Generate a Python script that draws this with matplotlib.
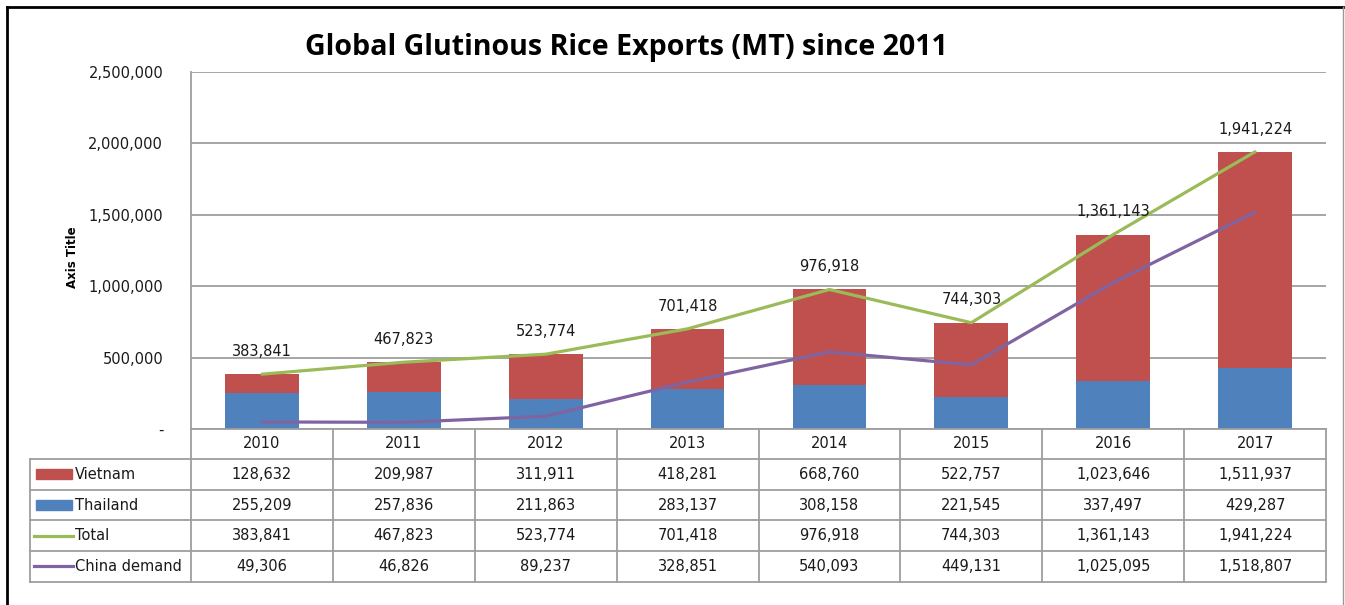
import numpy as np
import matplotlib.pyplot as plt
from matplotlib.patches import Rectangle
from matplotlib.lines import Line2D

# data (from the chart's data table)
years = ["2010", "2011", "2012", "2013", "2014", "2015", "2016", "2017"]
vietnam = [128632, 209987, 311911, 418281, 668760, 522757, 1023646, 1511937]
thailand = [255209, 257836, 211863, 283137, 308158, 221545, 337497, 429287]
total = [383841, 467823, 523774, 701418, 976918, 744303, 1361143, 1941224]
china = [49306, 46826, 89237, 328851, 540093, 449131, 1025095, 1518807]

c_vn = "#C0504D"
c_th = "#4F81BD"
c_tot = "#9BBB59"
c_cn = "#8064A2"
grid_c = "#9E9E9E"
txt_c = "#1a1a1a"

W, H = 1345, 605
fig = plt.figure(figsize=(W / 100, H / 100), dpi=100)

# plot area in pixels
L, R, T, B = 191, 1326, 72, 429
ax = fig.add_axes([L / W, 1 - B / H, (R - L) / W, (B - T) / H])

x = np.arange(len(years))
ax.bar(x, thailand, width=0.52, color=c_th, zorder=2)
ax.bar(x, vietnam, width=0.52, bottom=thailand, color=c_vn, zorder=2)
ax.plot(x, total, color=c_tot, lw=2.3, zorder=3, solid_capstyle="round")
ax.plot(x, china, color=c_cn, lw=2.3, zorder=3, solid_capstyle="round")

for xi, v in zip(x, total):
    ax.annotate(f"{v:,}", (xi, v), xytext=(0, 11), textcoords="offset points",
                ha="center", va="bottom", fontsize=10.5, color=txt_c)

ax.set_xlim(-0.5, len(years) - 0.5)
ax.set_ylim(0, 2500000)
ax.set_yticks(np.arange(0, 2500001, 500000))
ax.set_yticklabels(["-"] + [f"{v:,}" for v in range(500000, 2500001, 500000)],
                   fontsize=10.5, color=txt_c)
ax.tick_params(axis="y", length=0, pad=20)
ax.set_xticks([])
ax.grid(axis="y", color=grid_c, lw=1.3, zorder=0)
for s in ["top", "right", "bottom"]:
    ax.spines[s].set_visible(False)
ax.spines["left"].set_color(grid_c)
ax.spines["left"].set_linewidth(1.3)

# overlay in pixel coords for the data table, titles and frame
ov = fig.add_axes([0, 0, 1, 1], facecolor="none")
ov.set_xlim(0, W)
ov.set_ylim(H, 0)
ov.axis("off")

fig.text(626 / W, 1 - 47 / H, "Global Glutinous Rice Exports (MT) since 2011",
         ha="center", va="center", fontsize=20.6, fontweight="bold",
         family="Open Sans", color="black")
fig.text(73 / W, 1 - 257 / H, "Axis Title", rotation=90, ha="center", va="center",
         fontsize=8.5, fontweight="bold", color="black")

# table layout
colw = (R - L) / len(years)
row_h = 30.7
leg_l = 30
hdr_bot = B + 30
bot = hdr_bot + 4 * row_h
lc = dict(color=grid_c, lw=1.3)

ov.plot([L, R], [B, B], **lc)
ov.plot([leg_l, R], [hdr_bot, hdr_bot], **lc)
for k in range(1, 5):
    ov.plot([leg_l, R], [hdr_bot + k * row_h] * 2, **lc)
ov.plot([leg_l, leg_l], [hdr_bot, bot], **lc)
for i in range(len(years) + 1):
    ov.plot([L + i * colw] * 2, [B, bot], **lc)

for i, y in enumerate(years):
    ov.text(L + (i + 0.5) * colw, B + 15, y, ha="center", va="center",
            fontsize=10.5, color=txt_c)

rows = [("Vietnam", vietnam, "bar", c_vn), ("Thailand", thailand, "bar", c_th),
        ("Total", total, "line", c_tot), ("China demand", china, "line", c_cn)]
for r, (name, vals, kind, col) in enumerate(rows):
    yc = hdr_bot + (r + 0.5) * row_h
    if kind == "bar":
        ov.add_patch(Rectangle((36, yc - 5), 36, 10, color=col))
    else:
        ov.add_line(Line2D([34, 73], [yc, yc], color=col, lw=2.3))
    ov.text(75, yc, name, ha="left", va="center", fontsize=10.5, color=txt_c)
    for i, v in enumerate(vals):
        ov.text(L + (i + 0.5) * colw, yc, f"{v:,}", ha="center", va="center",
                fontsize=10.5, color=txt_c)

# outer chart frame
ov.plot([7, 1343], [7, 7], color="black", lw=2)
ov.plot([7, 7], [7, H], color="black", lw=2)
ov.plot([1343, 1343], [7, H], color="#999999", lw=1)

fig.savefig("out.png", dpi=100, facecolor="white")
